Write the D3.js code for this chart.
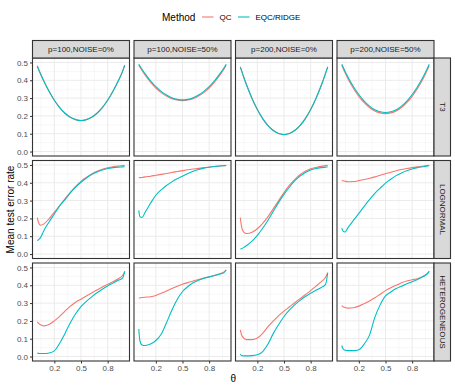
<!DOCTYPE html>
<html>
<head>
<meta charset="utf-8">
<script src="https://cdn.jsdelivr.net/npm/d3@7"></script>
<style>
  body { margin: 0; background: #fff; }
  text { font-family: "Liberation Sans", Arial, sans-serif; }
</style>
</head>
<body>
<svg id="chart"></svg>
<script>
const theta = [0.09, 0.1, 0.12, 0.15, 0.2, 0.25, 0.3, 0.35, 0.4, 0.45, 0.5, 0.55, 0.6, 0.65, 0.7, 0.75, 0.8, 0.85, 0.89, 0.91]

const methods = ['QC', 'EQC/RIDGE']
const colLabels = ['p=100,NOISE=0%', 'p=100,NOISE=50%', 'p=200,NOISE=0%', 'p=200,NOISE=50%']
const rowLabels = ['T3', 'LOGNORMAL', 'HETEROGENEOUS']
const xTicks = [0.25, 0.5, 0.75]
const xTickLabels = ['0.2', '0.5', '0.8']
const yTicks = [0, 0.1, 0.2, 0.3, 0.4, 0.5]

// T3
const t3_a_qc  = [0.48, 0.465, 0.437, 0.397, 0.338, 0.288, 0.247, 0.215, 0.192, 0.179, 0.174, 0.179, 0.192, 0.215, 0.247, 0.288, 0.338, 0.397, 0.45, 0.485]
const t3_a_eqc = [0.48, 0.465, 0.437, 0.397, 0.338, 0.288, 0.247, 0.215, 0.192, 0.179, 0.174, 0.179, 0.192, 0.215, 0.247, 0.288, 0.338, 0.397, 0.45, 0.485]
const t3_b_qc  = [0.486, 0.474, 0.455, 0.428, 0.389, 0.356, 0.331, 0.311, 0.297, 0.289, 0.286, 0.289, 0.297, 0.311, 0.331, 0.356, 0.389, 0.428, 0.463, 0.484]
const t3_b_eqc = [0.49, 0.48, 0.462, 0.436, 0.397, 0.364, 0.338, 0.317, 0.302, 0.293, 0.29, 0.293, 0.302, 0.317, 0.338, 0.364, 0.397, 0.436, 0.47, 0.49]
const t3_c_qc  = [0.475, 0.457, 0.421, 0.372, 0.298, 0.236, 0.185, 0.146, 0.118, 0.101, 0.095, 0.101, 0.118, 0.146, 0.185, 0.236, 0.298, 0.372, 0.439, 0.475]
const t3_c_eqc = [0.475, 0.457, 0.421, 0.372, 0.298, 0.236, 0.185, 0.146, 0.118, 0.101, 0.095, 0.101, 0.118, 0.146, 0.185, 0.236, 0.298, 0.372, 0.439, 0.475]
const t3_d_qc  = [0.485, 0.47, 0.443, 0.406, 0.354, 0.31, 0.274, 0.247, 0.228, 0.217, 0.213, 0.217, 0.228, 0.247, 0.274, 0.31, 0.354, 0.406, 0.455, 0.482]
const t3_d_eqc = [0.49, 0.477, 0.451, 0.416, 0.364, 0.32, 0.283, 0.255, 0.235, 0.223, 0.219, 0.223, 0.235, 0.255, 0.283, 0.32, 0.364, 0.416, 0.464, 0.49]

// LOGNORMAL
const ln_a_qc  = [0.205, 0.18, 0.162, 0.168, 0.198, 0.235, 0.272, 0.31, 0.346, 0.38, 0.408, 0.43, 0.45, 0.465, 0.476, 0.484, 0.49, 0.494, 0.496, 0.497]
const ln_a_eqc = [0.075, 0.08, 0.092, 0.13, 0.18, 0.225, 0.27, 0.305, 0.343, 0.375, 0.403, 0.427, 0.446, 0.461, 0.472, 0.48, 0.485, 0.488, 0.489, 0.49]
const ln_b_qc  = [0.428, 0.429, 0.43, 0.433, 0.437, 0.442, 0.447, 0.452, 0.458, 0.463, 0.468, 0.473, 0.477, 0.481, 0.485, 0.488, 0.491, 0.494, 0.496, 0.497]
const ln_b_eqc = [0.245, 0.21, 0.205, 0.235, 0.285, 0.33, 0.36, 0.385, 0.405, 0.422, 0.437, 0.452, 0.465, 0.475, 0.482, 0.487, 0.491, 0.494, 0.496, 0.497]
const ln_c_qc  = [0.205, 0.16, 0.125, 0.115, 0.122, 0.142, 0.172, 0.21, 0.255, 0.3, 0.345, 0.385, 0.418, 0.445, 0.465, 0.478, 0.486, 0.492, 0.496, 0.498]
const ln_c_eqc = [0.028, 0.03, 0.036, 0.048, 0.072, 0.105, 0.145, 0.19, 0.24, 0.29, 0.335, 0.375, 0.41, 0.437, 0.458, 0.472, 0.48, 0.485, 0.488, 0.49]
const ln_d_qc  = [0.412, 0.411, 0.409, 0.406, 0.407, 0.412, 0.418, 0.425, 0.433, 0.442, 0.451, 0.459, 0.467, 0.474, 0.48, 0.485, 0.489, 0.493, 0.496, 0.498]
const ln_d_eqc = [0.145, 0.13, 0.124, 0.15, 0.19, 0.228, 0.268, 0.305, 0.34, 0.37, 0.398, 0.42, 0.44, 0.455, 0.467, 0.477, 0.485, 0.49, 0.494, 0.496]

// HETEROGENEOUS
const ht_a_qc  = [0.195, 0.188, 0.178, 0.172, 0.18, 0.2, 0.225, 0.255, 0.283, 0.305, 0.322, 0.34, 0.357, 0.373, 0.39, 0.405, 0.42, 0.437, 0.455, 0.475]
const ht_a_eqc = [0.02, 0.018, 0.017, 0.017, 0.02, 0.032, 0.075, 0.13, 0.19, 0.24, 0.28, 0.31, 0.335, 0.358, 0.378, 0.396, 0.412, 0.428, 0.44, 0.48]
const ht_b_qc  = [0.328, 0.329, 0.331, 0.333, 0.336, 0.343, 0.355, 0.368, 0.382, 0.395, 0.406, 0.415, 0.424, 0.432, 0.44, 0.447, 0.455, 0.465, 0.475, 0.485]
const ht_b_eqc = [0.155, 0.09, 0.065, 0.062, 0.07, 0.09, 0.125, 0.19, 0.26, 0.32, 0.365, 0.393, 0.414, 0.428, 0.439, 0.447, 0.455, 0.463, 0.472, 0.487]
const ht_c_qc  = [0.149, 0.125, 0.105, 0.095, 0.095, 0.104, 0.13, 0.168, 0.2, 0.23, 0.255, 0.278, 0.302, 0.325, 0.347, 0.37, 0.395, 0.42, 0.445, 0.47]
const ht_c_eqc = [0.015, 0.006, 0.004, 0.004, 0.005, 0.01, 0.028, 0.07, 0.13, 0.18, 0.225, 0.26, 0.29, 0.315, 0.337, 0.355, 0.372, 0.388, 0.405, 0.47]
const ht_d_qc  = [0.285, 0.28, 0.275, 0.272, 0.274, 0.283, 0.297, 0.312, 0.33, 0.35, 0.37, 0.386, 0.4, 0.414, 0.424, 0.431, 0.437, 0.45, 0.465, 0.478]
const ht_d_eqc = [0.062, 0.045, 0.035, 0.033, 0.033, 0.038, 0.07, 0.12, 0.22, 0.29, 0.34, 0.362, 0.382, 0.395, 0.408, 0.42, 0.433, 0.448, 0.462, 0.478]

const panels = [
  [[t3_a_qc, t3_a_eqc], [t3_b_qc, t3_b_eqc], [t3_c_qc, t3_c_eqc], [t3_d_qc, t3_d_eqc]],
  [[ln_a_qc, ln_a_eqc], [ln_b_qc, ln_b_eqc], [ln_c_qc, ln_c_eqc], [ln_d_qc, ln_d_eqc]],
  [[ht_a_qc, ht_a_eqc], [ht_b_qc, ht_b_eqc], [ht_c_qc, ht_c_eqc], [ht_d_qc, ht_d_eqc]]
]

const colors = d3.scaleOrdinal().domain(methods).range(['#F8766D', '#00BFC4'])

const W = 455, H = 390
const padLeft = 32.5, padTop = 58
const pw = 97, ph = 98, gap = 4.5
const stripH = 17.5, stripW = 16.5

const svg = d3.select('#chart').attr('width', W).attr('height', H)

const x = d3.scaleLinear().domain([0.045, 0.955]).range([0, pw])
const y = d3.scaleLinear().domain([-0.025, 0.525]).range([ph, 0])

const line = d3.line()
  .x((d, i) => x(theta[i]))
  .y(d => y(d))
  .curve(d3.curveMonotoneX)

const xMinor = [0.125, 0.375, 0.625, 0.875]
const yMinor = [0.05, 0.15, 0.25, 0.35, 0.45]

panels.forEach((row, r) => {
  row.forEach((cell, c) => {
    const px = padLeft + c * (pw + gap)
    const py = padTop + r * (ph + gap)
    const g = svg.append('g').attr('transform', `translate(${px},${py})`)

    g.append('rect').attr('width', pw).attr('height', ph).attr('fill', '#fff')

    g.selectAll('.xmin').data(xMinor).join('line')
      .attr('x1', d => x(d)).attr('x2', d => x(d))
      .attr('y1', 0).attr('y2', ph)
      .attr('stroke', '#F2F2F2').attr('stroke-width', 0.6)
    g.selectAll('.ymin').data(yMinor).join('line')
      .attr('y1', d => y(d)).attr('y2', d => y(d))
      .attr('x1', 0).attr('x2', pw)
      .attr('stroke', '#F2F2F2').attr('stroke-width', 0.6)
    g.selectAll('.xmaj').data(xTicks).join('line')
      .attr('x1', d => x(d)).attr('x2', d => x(d))
      .attr('y1', 0).attr('y2', ph)
      .attr('stroke', '#EBEBEB').attr('stroke-width', 1)
    g.selectAll('.ymaj').data(yTicks).join('line')
      .attr('y1', d => y(d)).attr('y2', d => y(d))
      .attr('x1', 0).attr('x2', pw)
      .attr('stroke', '#EBEBEB').attr('stroke-width', 1)

    cell.forEach((vals, m) => {
      g.append('path')
        .datum(vals)
        .attr('fill', 'none')
        .attr('stroke', colors(methods[m]))
        .attr('stroke-width', 1.1)
        .attr('d', line)
    })

    g.append('rect').attr('width', pw).attr('height', ph)
      .attr('fill', 'none').attr('stroke', '#333333').attr('stroke-width', 1.1)

    // y axis only on first column
    if (c === 0) {
      const ya = g.append('g')
        .call(d3.axisLeft(y).tickValues(yTicks).tickFormat(d3.format('.1f')).tickSize(2.5).tickPadding(2))
      ya.select('.domain').remove()
      ya.selectAll('line').attr('stroke', '#333333')
      ya.selectAll('text').attr('fill', '#4D4D4D').style('font-size', '8px')
        .style('font-family', '"Liberation Sans", Arial, sans-serif')
    }
    // x axis only on bottom row
    if (r === panels.length - 1) {
      const xa = g.append('g').attr('transform', `translate(0,${ph})`)
        .call(d3.axisBottom(x).tickValues(xTicks).tickFormat((d, i) => xTickLabels[i]).tickSize(2.5).tickPadding(2))
      xa.select('.domain').remove()
      xa.selectAll('line').attr('stroke', '#333333')
      xa.selectAll('text').attr('fill', '#4D4D4D').style('font-size', '8px')
        .style('font-family', '"Liberation Sans", Arial, sans-serif')
    }
  })
})

// top strips
colLabels.forEach((lab, c) => {
  const px = padLeft + c * (pw + gap)
  svg.append('rect').attr('x', px).attr('y', padTop - stripH).attr('width', pw).attr('height', stripH)
    .attr('fill', '#D9D9D9').attr('stroke', '#333333').attr('stroke-width', 1.1)
  svg.append('text').attr('x', px + pw / 2).attr('y', padTop - stripH / 2)
    .attr('text-anchor', 'middle').attr('dominant-baseline', 'central')
    .attr('fill', '#1A1A1A').style('font-size', '8px').text(lab)
})

// right strips
const sx = padLeft + 4 * pw + 3 * gap
rowLabels.forEach((lab, r) => {
  const py = padTop + r * (ph + gap)
  svg.append('rect').attr('x', sx).attr('y', py).attr('width', stripW).attr('height', ph)
    .attr('fill', '#D9D9D9').attr('stroke', '#333333').attr('stroke-width', 1.1)
  svg.append('text')
    .attr('transform', `translate(${sx + stripW / 2},${py + ph / 2}) rotate(90)`)
    .attr('text-anchor', 'middle').attr('dominant-baseline', 'central')
    .attr('fill', '#1A1A1A').style('font-size', '8px').text(lab)
})

// axis titles
svg.append('text')
  .attr('transform', `translate(10,${padTop + (3 * ph + 2 * gap) / 2}) rotate(-90)`)
  .attr('text-anchor', 'middle').attr('dominant-baseline', 'central')
  .style('font-size', '10px').attr('fill', '#000').text('Mean test error rate')

svg.append('text')
  .attr('x', padLeft + (4 * pw + 3 * gap) / 2).attr('y', 382)
  .attr('text-anchor', 'middle')
  .style('font-size', '10px').attr('fill', '#000').text('θ')

// legend
const leg = svg.append('g').attr('transform', 'translate(162,17)')
leg.append('text').attr('x', 0).attr('y', 0).attr('dominant-baseline', 'central')
  .style('font-size', '10px').attr('fill', '#000').text('Method')
const legX = [40, 76]
methods.forEach((m, i) => {
  leg.append('line').attr('x1', legX[i]).attr('x2', legX[i] + 11.5).attr('y1', 0).attr('y2', 0)
    .attr('stroke', colors(m)).attr('stroke-width', 1.1)
  leg.append('text').attr('x', legX[i] + 17.5).attr('y', 0).attr('dominant-baseline', 'central')
    .style('font-size', '8px').attr('fill', '#000').text(m)
})
</script>
</body>
</html>
